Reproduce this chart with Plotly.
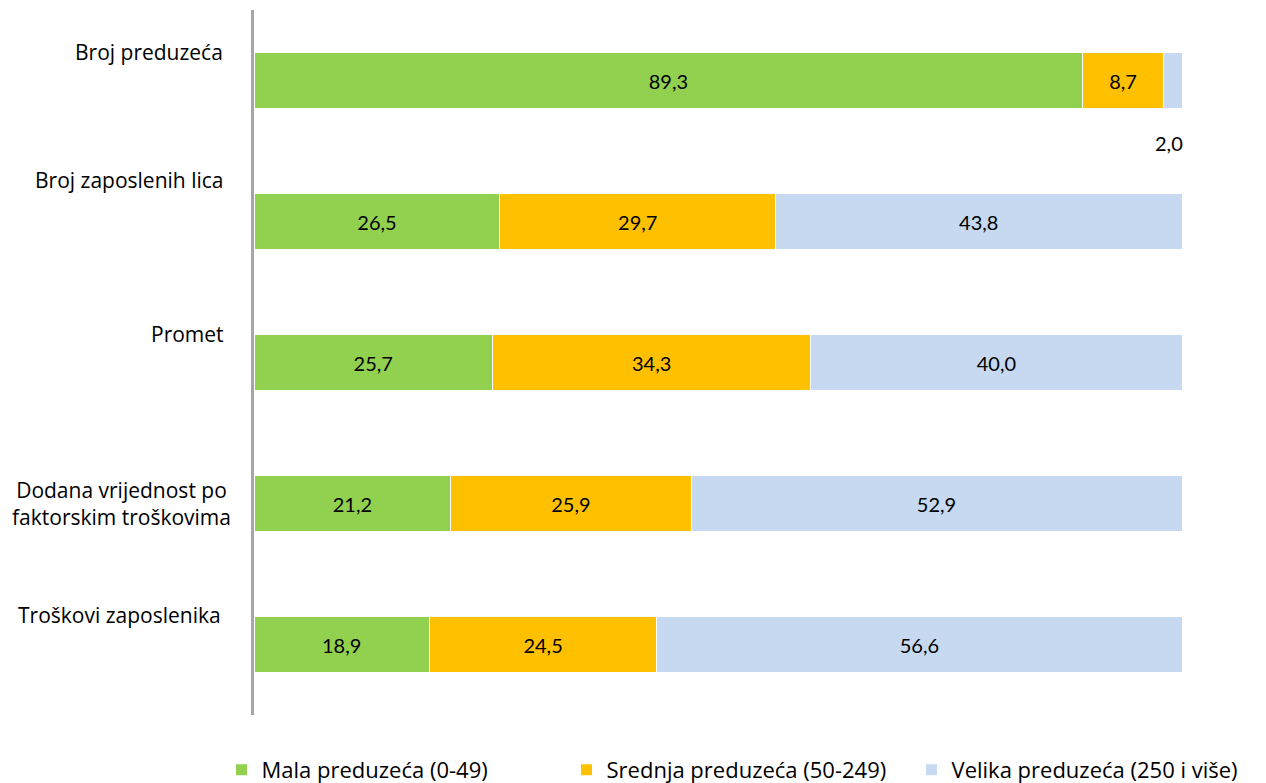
import plotly.graph_objects as go

categories = ["Broj preduzeća", "Broj zaposlenih lica", "Promet",
              "Dodana vrijednost po<br>faktorskim troškovima", "Troškovi zaposlenika"]
mala = [89.3, 26.5, 25.7, 21.2, 18.9]
srednja = [8.7, 29.7, 34.3, 25.9, 24.5]
velika = [2.0, 43.8, 40.0, 52.9, 56.6]
series_names = ["Mala preduzeća (0-49)", "Srednja preduzeća (50-249)", "Velika preduzeća (250 i više)"]
colors = ["#92D050", "#FFC000", "#C6D9F1"]
label_yshift = [29, 42, 29, 0, 30]
label_xshift = [-29, -29, -28, -21, -31]

def fmt(v):
    return f"{v:.1f}".replace(".", ",")

fig = go.Figure()
for name, vals, col in zip(series_names, [mala, srednja, velika], colors):
    texts = [fmt(v) for v in vals]
    if name.startswith("Velika"):
        texts[0] = ""
    fig.add_trace(go.Bar(
        y=categories, x=vals, name=name, orientation="h",
        marker=dict(color=col, line=dict(color="white", width=1)),
        text=texts, textposition="inside", insidetextanchor="middle",
        textfont=dict(family="Lato", size=20, color="black"),
        hoverinfo="skip", cliponaxis=False,
    ))

annotations = []
for cat, ys, xs in zip(categories, label_yshift, label_xshift):
    annotations.append(dict(
        x=0, xref="x", y=cat, yref="y", text=cat, showarrow=False,
        xanchor="right", xshift=xs, yshift=ys, align="center",
        font=dict(family="Open Sans", size=21, color="black")))
# small segment label outside the bar
annotations.append(dict(
    x=mala[0] + srednja[0] + velika[0] / 2, xref="x", y=categories[0], yref="y",
    text=fmt(velika[0]), showarrow=False, xanchor="center", xshift=-4, yshift=-62,
    font=dict(family="Lato", size=20, color="black")))

fig.update_layout(
    barmode="stack", bargap=0.6,
    width=1266, height=783,
    margin=dict(l=254, r=84, t=10, b=68, autoexpand=False),
    plot_bgcolor="white", paper_bgcolor="white",
    xaxis=dict(range=[0, 100], visible=False, fixedrange=True),
    yaxis=dict(range=[len(categories) - 0.5, -0.5], showticklabels=False, showline=True,
               linecolor="#A6A6A6", linewidth=3, ticks="", showgrid=False,
               zeroline=False, fixedrange=True),
    legend=dict(orientation="h", x=-0.035, xanchor="left", y=-0.078, yanchor="middle",
                font=dict(family="Open Sans", size=22, color="black"),
                traceorder="normal", itemwidth=30, entrywidth=300),
    annotations=annotations,
    showlegend=True,
)
fig.write_html("out.html", post_script="document.body.style.margin='0';",
               config={"displayModeBar": False})
